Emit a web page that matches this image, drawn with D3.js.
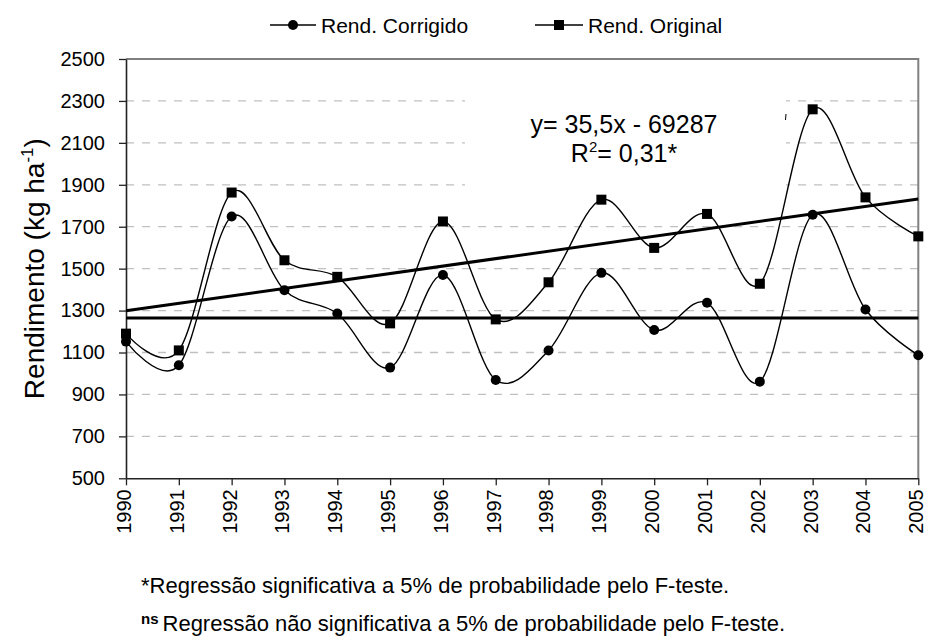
<!DOCTYPE html>
<html>
<head>
<meta charset="utf-8">
<script src="https://cdn.jsdelivr.net/npm/d3@7"></script>
<style>
  body { margin: 0; background: #fff; }
  svg { font-family: "Liberation Sans", Arial, sans-serif; }
</style>
</head>
<body>
<svg class="chart" width="927" height="641"></svg>
<script>
//data
const years = [1990, 1991, 1992, 1993, 1994, 1995, 1996, 1997, 1998, 1999, 2000, 2001, 2002, 2003, 2004, 2005];
const rendCorrigido = [1152, 1039, 1749, 1397, 1286, 1028, 1470, 969, 1110, 1480, 1207, 1337, 961, 1757, 1305, 1087];
const rendOriginal = [1190, 1110, 1863, 1540, 1461, 1239, 1725, 1258, 1435, 1829, 1599, 1761, 1428, 2260, 1840, 1654];
const yTicks = [500, 700, 900, 1100, 1300, 1500, 1700, 1900, 2100, 2300, 2500];
const trendEnds = [1299, 1832]; // linear fit of Rend. Original, at 1990 and 2005
const meanLevel = [1265]; // flat (ns) line of Rend. Corrigido
const seriesNames = ["Rend. Corrigido", "Rend. Original"];
const footnotes = [
  "Regressão significativa a 5% de probabilidade pelo F-teste.",
  "Regressão não significativa a 5% de probabilidade pelo F-teste."
];

const margin = { top: 59, right: 8, bottom: 162, left: 126 };
const width = 927;
const height = 641;

const svg = d3.select(".chart");

//make scales
const xScale = d3
  .scaleLinear()
  .domain([1990, 2005])
  .range([margin.left, width - margin.right - 0.7]);
const yScale = d3
  .scaleLinear()
  .domain([500, 2500])
  .range([height - margin.bottom - 0.7, margin.top]);

//gridlines
svg
  .append("g")
  .selectAll("line")
  .data(yTicks.filter(d => d > 500 && d < 2500))
  .join("line")
  .attr("x1", margin.left)
  .attr("x2", xScale(2005))
  .attr("y1", d => yScale(d))
  .attr("y2", d => yScale(d))
  .attr("stroke", "#c0c0c0")
  .attr("stroke-width", 1.3)
  .attr("stroke-dasharray", "8,8");

//white box behind the equation, cuts the gridlines
svg
  .append("rect")
  .attr("x", 465)
  .attr("y", 88)
  .attr("width", 321)
  .attr("height", 104)
  .attr("fill", "#fff");
svg
  .append("line")
  .attr("x1", 786)
  .attr("x2", 785.5)
  .attr("y1", 114)
  .attr("y2", 120)
  .attr("stroke", "#000")
  .attr("stroke-width", 1);

//frame top and right
svg
  .append("path")
  .attr("d", `M${margin.left},${yScale(2500)}H${xScale(2005)}V${yScale(500)}`)
  .attr("fill", "none")
  .attr("stroke", "#808080")
  .attr("stroke-width", 2);

//axes
const xAxis = g => {
  g.attr("transform", `translate(0, ${yScale(500)})`).call(
    d3
      .axisBottom(xScale)
      .tickValues(years)
      .tickFormat(d3.format("d"))
      .tickSize(7)
      .tickSizeOuter(0)
  );
  g.select(".domain").attr("stroke", "#222").attr("stroke-width", 1.6);
  g.selectAll(".tick line").attr("stroke", "#222").attr("stroke-width", 1.3);
  g.selectAll("text")
    .attr("font-size", "20px")
    .attr("font-family", "Liberation Sans, Arial, sans-serif")
    .attr("fill", "#000")
    .style("text-anchor", "end")
    .attr("transform", "rotate(-90)")
    .attr("x", -11)
    .attr("y", 0)
    .attr("dy", "0.22em");
  return g;
};
const yAxis = g => {
  g.attr("transform", `translate(${margin.left}, 0)`).call(
    d3
      .axisLeft(yScale)
      .tickValues(yTicks)
      .tickFormat(d3.format("d"))
      .tickSize(7)
      .tickSizeOuter(0)
  );
  g.select(".domain").attr("stroke", "#222").attr("stroke-width", 1.6);
  g.selectAll(".tick line").attr("stroke", "#222").attr("stroke-width", 1.3);
  g.selectAll("text")
    .attr("font-size", "20px")
    .attr("font-family", "Liberation Sans, Arial, sans-serif")
    .attr("fill", "#000")
    .attr("x", -21);
  return g;
};
svg.append("g").call(xAxis);
svg.append("g").call(yAxis);

//y title
const yTitle = svg
  .append("text")
  .attr("transform", `translate(44, ${(yScale(500) + yScale(2500)) / 2}) rotate(-90)`)
  .attr("text-anchor", "middle")
  .attr("font-size", "28px");
yTitle.append("tspan").text("Rendimento (kg ha");
yTitle.append("tspan").attr("font-size", "17px").attr("dy", "-11").text("-1");
yTitle.append("tspan").attr("dy", "11").text(")");

//trend line and flat line
svg
  .append("line")
  .attr("x1", xScale(1990))
  .attr("x2", xScale(2005))
  .attr("y1", yScale(trendEnds[0]))
  .attr("y2", yScale(trendEnds[1]))
  .attr("stroke", "#000")
  .attr("stroke-width", 3);
svg
  .append("line")
  .attr("x1", xScale(1990))
  .attr("x2", xScale(2005))
  .attr("y1", yScale(meanLevel[0]))
  .attr("y2", yScale(meanLevel[0]))
  .attr("stroke", "#000")
  .attr("stroke-width", 3);

//smoothed series lines, excel style
const valueLine = d3
  .line()
  .x(d => xScale(d[0]))
  .y(d => yScale(d[1]))
  .curve(d3.curveCardinal.tension(0));

[rendCorrigido, rendOriginal].forEach(vals => {
  svg
    .append("path")
    .datum(years.map((y, i) => [y, vals[i]]))
    .attr("d", valueLine)
    .attr("fill", "none")
    .attr("stroke", "#000")
    .attr("stroke-width", 1.4);
});

//markers
svg
  .append("g")
  .selectAll("circle")
  .data(years)
  .join("circle")
  .attr("cx", d => xScale(d))
  .attr("cy", (d, i) => yScale(rendCorrigido[i]))
  .attr("r", 5)
  .attr("fill", "#000");
svg
  .append("g")
  .selectAll("rect")
  .data(years)
  .join("rect")
  .attr("x", d => xScale(d) - 5)
  .attr("y", (d, i) => yScale(rendOriginal[i]) - 5)
  .attr("width", 10)
  .attr("height", 10)
  .attr("fill", "#000");

//equation
svg
  .append("text")
  .attr("x", 624)
  .attr("y", 133)
  .attr("text-anchor", "middle")
  .attr("font-size", "25px")
  .text("y= 35,5x - 69287");
const r2 = svg
  .append("text")
  .attr("x", 624)
  .attr("y", 162)
  .attr("text-anchor", "middle")
  .attr("font-size", "25px");
r2.append("tspan").text("R");
r2.append("tspan").attr("font-size", "15px").attr("dy", "-10").text("2");
r2.append("tspan").attr("dy", "10").text("= 0,31*");

//legend
const legend = svg.append("g").attr("font-size", "21px");
const legendItems = [
  { name: seriesNames[0], x0: 270, x1: 316, shape: "circle" },
  { name: seriesNames[1], x0: 535, x1: 583, shape: "square" }
];
legendItems.forEach(d => {
  const ly = 25;
  legend
    .append("line")
    .attr("x1", d.x0)
    .attr("x2", d.x1)
    .attr("y1", ly)
    .attr("y2", ly)
    .attr("stroke", "#000")
    .attr("stroke-width", 1.4);
  const cx = (d.x0 + d.x1) / 2;
  if (d.shape === "circle") {
    legend.append("circle").attr("cx", cx).attr("cy", ly).attr("r", 5);
  } else {
    legend.append("rect").attr("x", cx - 5).attr("y", ly - 5).attr("width", 10).attr("height", 10);
  }
  legend
    .append("text")
    .attr("x", d.x1 + 5)
    .attr("y", ly)
    .attr("dy", "0.36em")
    .text(d.name);
});

//footnotes
const note1 = svg
  .append("text")
  .attr("x", 141)
  .attr("y", 593)
  .attr("font-size", "22px");
note1.append("tspan").text("*");
note1.append("tspan").text(footnotes[0]);

const note2 = svg
  .append("text")
  .attr("x", 141)
  .attr("y", 631)
  .attr("font-size", "22px");
note2
  .append("tspan")
  .attr("font-size", "15px")
  .attr("font-weight", "bold")
  .attr("dy", "-7")
  .text("ns");
note2.append("tspan").attr("dy", "7").attr("dx", "4").text(footnotes[1]);
</script>
</body>
</html>
